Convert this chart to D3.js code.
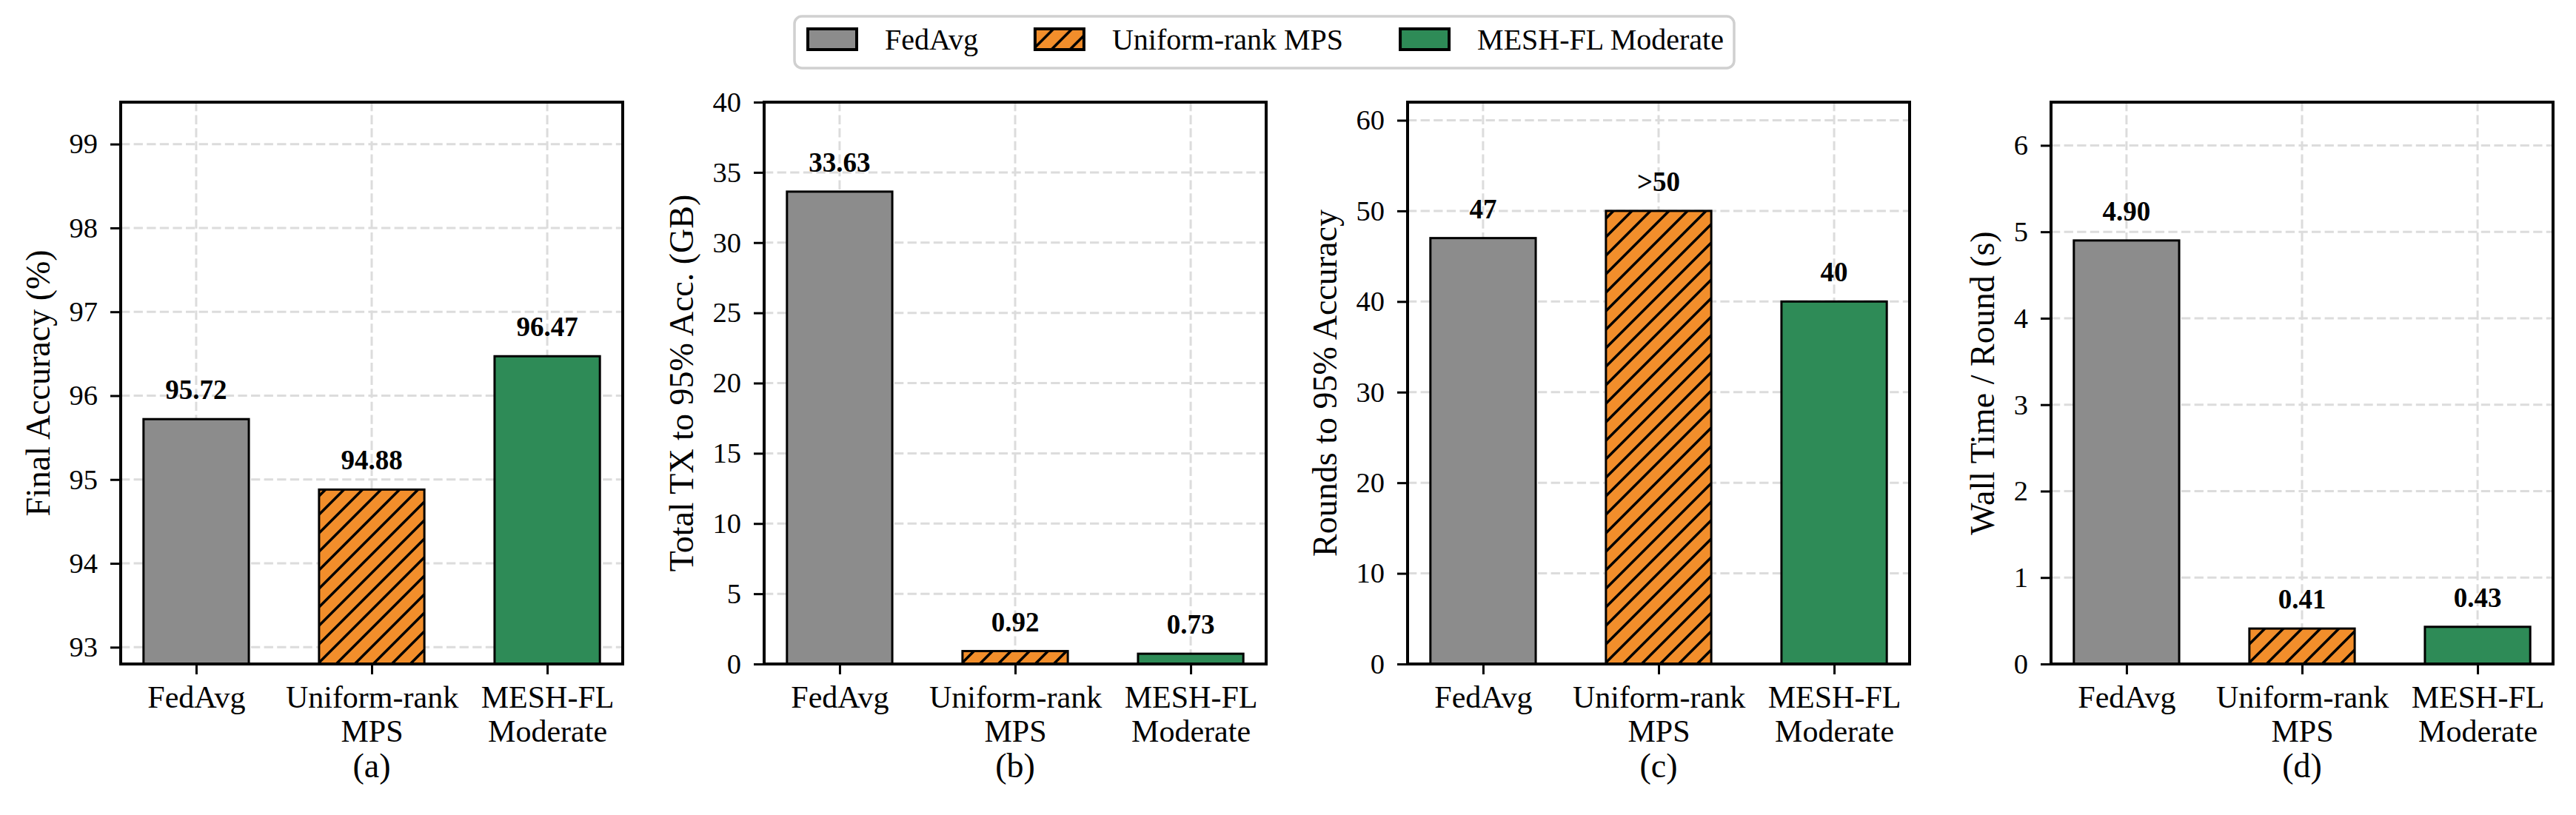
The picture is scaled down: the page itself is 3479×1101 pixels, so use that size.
<!DOCTYPE html>
<html>
<head>
<meta charset="utf-8">
<script src="https://cdn.jsdelivr.net/npm/d3@7"></script>
<style>
  body { margin: 0; background: #fff; }
  text { font-family: "Liberation Serif", "Times New Roman", Times, serif; }
</style>
</head>
<body>
<div class="plot"></div>
<script>
// four bar panels comparing FedAvg / Uniform-rank MPS / MESH-FL Moderate

// step 1: data
var methods = ["FedAvg", "Uniform-rank MPS", "MESH-FL Moderate"];
var tickLines = [["FedAvg"], ["Uniform-rank", "MPS"], ["MESH-FL", "Moderate"]];
var colors = ["#8c8c8c", "#f28e2b", "#2e8b57"];

var finalAccuracy = [95.72, 94.88, 96.47];
var totalTxGB = [33.63, 0.92, 0.73];
var roundsTo95 = [47, 50, 40];
var roundsText = ["47", ">50", "40"];
var wallTime = [4.90, 0.41, 0.43];

var panels = [
  { values: finalAccuracy, labels: finalAccuracy.map(d => d.toFixed(2)),
    yLabel: "Final Accuracy (%)", domain: [92.8, 99.5], ticks: d3.range(93, 100, 1), letter: "(a)" },
  { values: totalTxGB, labels: totalTxGB.map(d => d.toFixed(2)),
    yLabel: "Total TX to 95% Acc. (GB)", domain: [0, 40], ticks: d3.range(0, 41, 5), letter: "(b)" },
  { values: roundsTo95, labels: roundsText,
    yLabel: "Rounds to 95% Accuracy", domain: [0, 62], ticks: d3.range(0, 61, 10), letter: "(c)" },
  { values: wallTime, labels: wallTime.map(d => d.toFixed(2)),
    yLabel: "Wall Time / Round (s)", domain: [0, 6.5], ticks: d3.range(0, 7, 1), letter: "(d)" }
];

// step 2: layout
var svgWidth = 3479;
var svgHeight = 1101;
var plotLeft = 163, panelStep = 869;
var plotTop = 138, width = 678, height = 759;

var svg = d3.select(".plot")
  .append("svg")
  .attr("width", svgWidth)
  .attr("height", svgHeight);

svg.append("rect").attr("width", svgWidth).attr("height", svgHeight).attr("fill", "#fff");

// hatch for the uniform-rank bars
var defs = svg.append("defs");
var pat = defs.append("pattern")
  .attr("id", "hatch")
  .attr("patternUnits", "userSpaceOnUse")
  .attr("width", 25).attr("height", 25);
pat.append("rect").attr("width", 25).attr("height", 25).attr("fill", colors[1]);
pat.append("path")
  .attr("d", "M-2,27 L27,-2 M-8,8 L8,-8 M17,33 L33,17")
  .attr("stroke", "#000").attr("stroke-width", 3.5);

function barFill(i) { return i === 1 ? "url(#hatch)" : colors[i]; }

// x positions: bars of width 0.6 with matplotlib's 5% margins
var x = d3.scaleLinear().domain([-0.43, 2.43]).range([0, width]);
var barW = 0.6;

// step 3: draw each panel
panels.forEach(function(p, k) {
  var g = svg.append("g")
    .attr("transform", `translate(${plotLeft + k * panelStep}, ${plotTop})`);

  var y = d3.scaleLinear().domain(p.domain).range([height, 0]);

  // grid
  g.selectAll(".hgrid").data(p.ticks).enter().append("line")
    .attr("x1", 0).attr("x2", width)
    .attr("y1", d => y(d)).attr("y2", d => y(d))
    .attr("stroke", "#dcdcdc").attr("stroke-width", 3)
    .attr("stroke-dasharray", "12.3,5.3");
  g.selectAll(".vgrid").data([0, 1, 2]).enter().append("line")
    .attr("x1", d => x(d)).attr("x2", d => x(d))
    .attr("y1", 0).attr("y2", height)
    .attr("stroke", "#dcdcdc").attr("stroke-width", 3)
    .attr("stroke-dasharray", "12.3,5.3");

  // bars
  g.selectAll(".bar").data(p.values).enter().append("rect")
    .attr("x", (d, i) => x(i - barW / 2))
    .attr("width", x(barW) - x(0))
    .attr("y", d => y(d))
    .attr("height", d => height - y(d))
    .attr("fill", (d, i) => barFill(i))
    .attr("stroke", "#000").attr("stroke-width", 3);

  // value labels
  g.selectAll(".vlabel").data(p.values).enter().append("text")
    .attr("x", (d, i) => x(i))
    .attr("y", d => y(d) - 27)
    .attr("text-anchor", "middle")
    .style("font-size", "37px").style("font-weight", "bold")
    .text((d, i) => p.labels[i]);

  // y axis
  var yAxis = g.append("g")
    .call(d3.axisLeft(y).tickValues(p.ticks).tickSize(14).tickPadding(17).tickFormat(d3.format("d")));
  yAxis.select(".domain").remove();
  yAxis.selectAll(".tick line").attr("stroke", "#000").attr("stroke-width", 3);
  yAxis.selectAll(".tick text").attr("fill", "#000")
    .style("font-size", "38.5px");

  // x axis with two-line labels
  var xAxis = g.append("g")
    .attr("transform", `translate(0, ${height})`)
    .call(d3.axisBottom(x).tickValues([0, 1, 2]).tickSize(14).tickFormat(""));
  xAxis.select(".domain").remove();
  xAxis.selectAll(".tick line").attr("stroke", "#000").attr("stroke-width", 3);
  xAxis.selectAll(".tick").each(function(d) {
    var t = d3.select(this).append("text")
      .attr("fill", "#000").attr("text-anchor", "middle")
      .style("font-size", "42px");
    tickLines[d].forEach(function(line, j) {
      t.append("tspan").attr("x", 0).attr("y", 59 + j * 46).text(line);
    });
  });

  // spines on top
  g.append("rect")
    .attr("width", width).attr("height", height)
    .attr("fill", "none").attr("stroke", "#000").attr("stroke-width", 4);

  // y label, placed left of the tick labels
  var tickBox = yAxis.node().getBBox();
  var yl = g.append("text")
    .attr("text-anchor", "middle")
    .style("font-size", "46px")
    .text(p.yLabel);
  var lb = yl.node().getBBox();
  var tx = tickBox.x - 17 - (lb.y + lb.height);
  yl.attr("transform", `translate(${tx}, ${height / 2}) rotate(-90)`);

  // panel letter
  g.append("text")
    .attr("x", width / 2).attr("y", 1050 - plotTop)
    .attr("text-anchor", "middle")
    .style("font-size", "46px")
    .text(p.letter);
});

// step 4: legend
var leg = svg.append("g");
var legLeft = 1073, legRight = 2342, legTop = 22, legBottom = 92;
leg.append("rect")
  .attr("x", legLeft).attr("y", legTop)
  .attr("width", legRight - legLeft).attr("height", legBottom - legTop)
  .attr("rx", 10)
  .attr("fill", "#fff").attr("stroke", "#d0d0d0").attr("stroke-width", 3.5);

var items = leg.selectAll(".item").data(methods).enter().append("g");
items.append("rect")
  .attr("width", 66).attr("height", 28)
  .attr("fill", (d, i) => barFill(i))
  .attr("stroke", "#000").attr("stroke-width", 4);
items.append("text")
  .attr("x", 104).attr("y", 28)
  .style("font-size", "40px")
  .text(d => d);

var widths = [];
items.select("text").each(function() { widths.push(this.getComputedTextLength()); });
var fixed = 16 * 2 + 3 * 104 + d3.sum(widths);
var colGap = (legRight - legLeft - fixed) / 2;
var cx = legLeft + 18;
items.each(function(d, i) {
  d3.select(this).attr("transform", `translate(${cx}, 39)`);
  cx += 104 + widths[i] + colGap;
});
</script>
</body>
</html>
